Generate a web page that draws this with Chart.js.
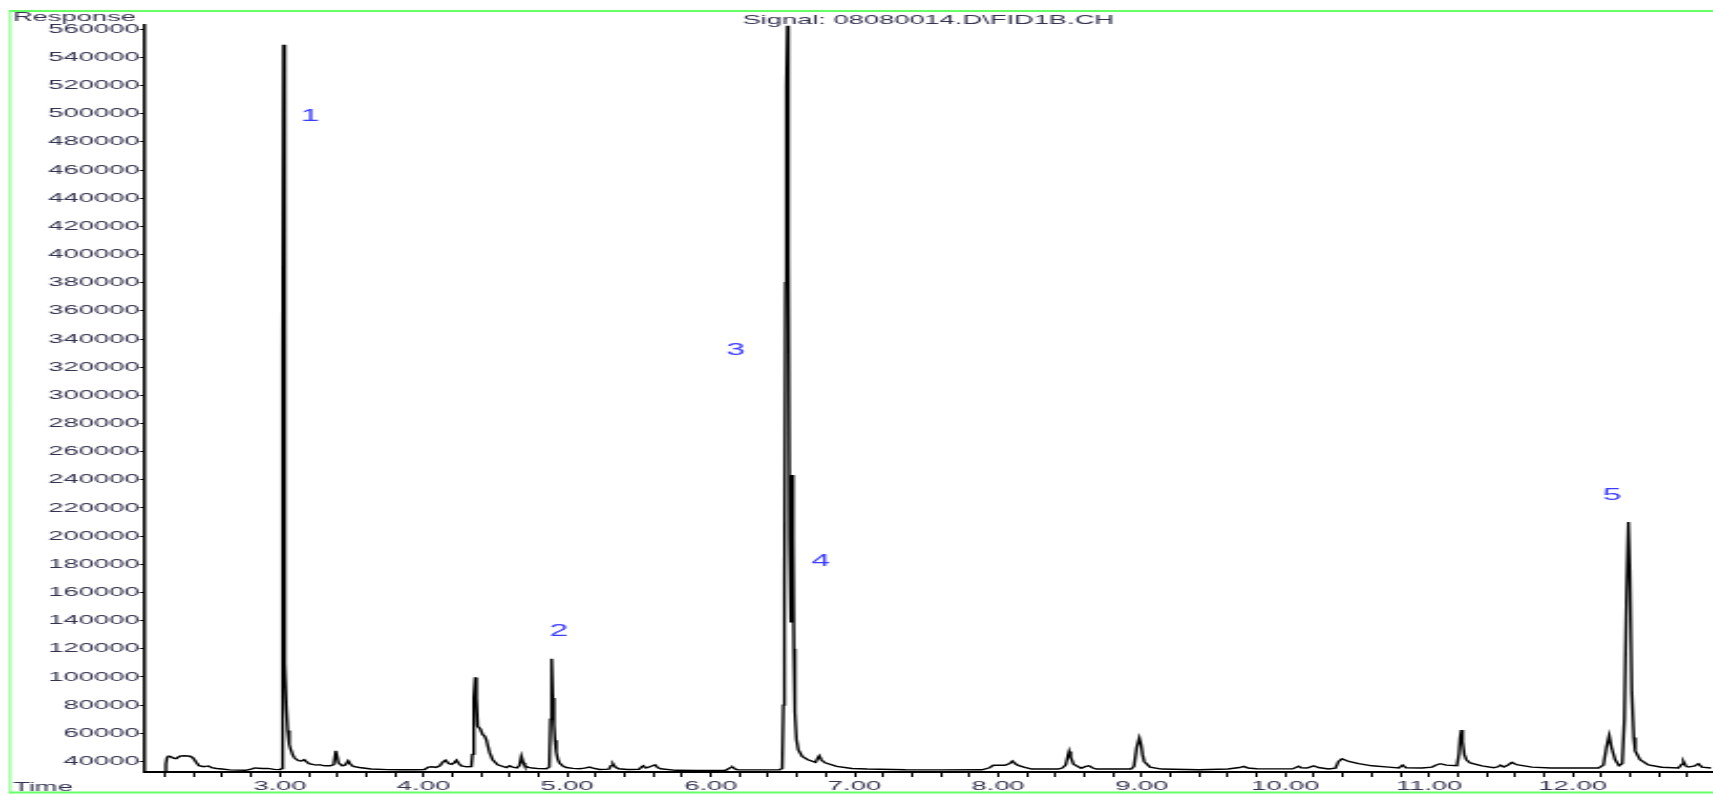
<!DOCTYPE html>
<html>
<head>
<meta charset="utf-8">
<script src="https://cdn.jsdelivr.net/npm/chart.js@4.4.0/dist/chart.umd.min.js"></script>
<style>
html, body { margin:0; padding:0; background:#fff; overflow:hidden; }
#page { width:1713px; height:795px; position:relative; overflow:hidden; background:#fff; }
/* the original printout is stretched sideways, so draw narrow and stretch */
#stretch { width:816px; height:795px; transform:scaleX(2.0993); transform-origin:0 0; }
</style>
</head>
<body>
<div id="page"><div id="stretch"><canvas id="chrom"></canvas></div></div>
<script>
// retention time (min)
var times = [
    2.061, 2.200, 2.206, 2.214, 2.224, 2.240, 2.258, 2.277, 2.292, 2.304,
    2.330, 2.357, 2.375, 2.397, 2.417, 2.437, 2.470, 2.503, 2.525, 2.560,
    2.597, 2.650, 2.703, 2.760, 2.800, 2.823, 2.850, 2.880, 2.916, 2.960,
    3.003, 3.012, 3.017, 3.021, 3.025, 3.029, 3.033, 3.038, 3.045, 3.054,
    3.065, 3.076, 3.090, 3.102, 3.129, 3.150, 3.169, 3.185, 3.203, 3.235,
    3.255, 3.275, 3.295, 3.315, 3.350, 3.375, 3.389, 3.400, 3.408, 3.435,
    3.455, 3.475, 3.490, 3.510, 3.554, 3.634, 3.750, 3.847, 3.950, 4.007,
    4.033, 4.060, 4.087, 4.113, 4.134, 4.153, 4.175, 4.194, 4.213, 4.229,
    4.245, 4.264, 4.300, 4.333, 4.340, 4.350, 4.360, 4.368, 4.377, 4.395,
    4.412, 4.425, 4.437, 4.450, 4.460, 4.481, 4.516, 4.577, 4.599, 4.620,
    4.650, 4.668, 4.681, 4.695, 4.704, 4.730, 4.759, 4.800, 4.855, 4.875,
    4.884, 4.892, 4.900, 4.908, 4.915, 4.924, 4.935, 4.947, 4.970, 4.994,
    5.040, 5.086, 5.120, 5.156, 5.180, 5.225, 5.290, 5.305, 5.318, 5.335,
    5.358, 5.420, 5.500, 5.520, 5.531, 5.545, 5.558, 5.590, 5.611, 5.630,
    5.651, 5.757, 5.900, 6.104, 6.140, 6.152, 6.170, 6.184, 6.300, 6.477,
    6.497, 6.505, 6.512, 6.520, 6.526, 6.533, 6.540, 6.548, 6.554, 6.560,
    6.566, 6.572, 6.578, 6.585, 6.596, 6.609, 6.636, 6.676, 6.729, 6.745,
    6.755, 6.770, 6.796, 6.876, 6.982, 7.088, 7.355, 7.600, 7.887, 7.940,
    7.967, 8.047, 8.080, 8.100, 8.120, 8.140, 8.180, 8.233, 8.419, 8.446,
    8.470, 8.486, 8.494, 8.505, 8.525, 8.578, 8.610, 8.632, 8.660, 8.685,
    8.925, 8.946, 8.965, 8.983, 8.995, 9.005, 9.017, 9.058, 9.138, 9.398,
    9.600, 9.680, 9.711, 9.740, 9.800, 10.050, 10.080, 10.093, 10.110, 10.150,
    10.197, 10.230, 10.300, 10.348, 10.370, 10.394, 10.441, 10.510, 10.603, 10.719,
    10.790, 10.816, 10.840, 10.950, 11.020, 11.050, 11.078, 11.120, 11.194, 11.208,
    11.217, 11.225, 11.233, 11.245, 11.260, 11.287, 11.368, 11.450, 11.480, 11.496,
    11.520, 11.550, 11.577, 11.610, 11.716, 11.850, 12.179, 12.214, 12.235, 12.254,
    12.270, 12.296, 12.323, 12.345, 12.360, 12.375, 12.388, 12.398, 12.411, 12.425,
    12.435, 12.469, 12.527, 12.620, 12.736, 12.760, 12.771, 12.790, 12.805, 12.850,
    12.875, 12.900, 12.965
];

// FID response
var responses = [
    32600, 32600, 38000, 42500, 43800, 43500, 42300, 42000, 43000, 43800,
    44000, 43900, 43700, 42300, 39500, 37000, 36300, 36800, 35600, 35000,
    34600, 34000, 33800, 33700, 34500, 35400, 35200, 35000, 35100, 34400,
    34200, 35000, 120000, 330000, 549000, 470000, 230000, 110000, 78000, 62000,
    52000, 48300, 44500, 42400, 40500, 40300, 41200, 39800, 38400, 37700,
    37400, 37700, 37200, 36900, 36900, 37800, 47600, 42500, 38900, 36900,
    37500, 40500, 38200, 36500, 35700, 34600, 34200, 34100, 34100, 34300,
    36000, 36200, 35800, 36900, 39500, 40900, 38500, 38000, 39000, 40800,
    38500, 36800, 36200, 36300, 45000, 85000, 99700, 85000, 64900, 63000,
    59000, 58000, 55400, 50000, 46200, 41200, 37600, 35700, 36900, 36000,
    35400, 37000, 43600, 39000, 37000, 35800, 35300, 34900, 34800, 36000,
    70000, 113000, 85000, 66000, 55000, 46500, 41500, 38900, 36700, 35700,
    35100, 34800, 35300, 36000, 35300, 34300, 34500, 37000, 38400, 36000,
    34800, 34300, 34400, 36300, 36900, 35400, 35600, 36800, 37600, 35600,
    34800, 33700, 33600, 33700, 35800, 36000, 34600, 34000, 34000, 34100,
    35000, 80000, 170000, 380000, 520000, 562500, 400000, 200000, 138700, 200000,
    243500, 200000, 120000, 75000, 55400, 48300, 43600, 41200, 39300, 42500,
    44000, 41000, 39000, 36500, 35000, 34600, 34100, 34000, 34100, 35500,
    37300, 37300, 38500, 40300, 38300, 37200, 36000, 34600, 34600, 35300,
    37500, 44000, 47100, 43000, 38000, 35200, 36500, 36900, 35300, 34600,
    34600, 36500, 50000, 56600, 52000, 45000, 40000, 36000, 34600, 34100,
    34600, 35700, 36500, 35300, 34800, 34700, 36000, 36500, 35400, 35300,
    36900, 35700, 34700, 35300, 40000, 41900, 40000, 38400, 36900, 36000,
    35400, 37400, 35400, 35300, 36000, 37500, 38400, 37400, 36900, 45000,
    57000, 62300, 54000, 45000, 41200, 38900, 36900, 35600, 36200, 37400,
    36000, 37500, 39300, 37700, 36000, 35300, 35300, 37500, 50000, 58300,
    50000, 41200, 37000, 38500, 70000, 160000, 210000, 175000, 90000, 57000,
    47500, 41200, 37600, 35900, 35300, 38000, 40000, 36500, 36000, 36800,
    38400, 36000, 35300
];

var peakNames = ['1', '2', '3', '4', '5'];
var peakLabelTimes = [3.209, 4.943, 6.173, 6.766, 12.274];
var peakLabelResponses = [498100, 132500, 331900, 182200, 228700];

var yTicks = [40000, 60000, 80000, 100000, 120000, 140000, 160000, 180000, 200000,
    220000, 240000, 260000, 280000, 300000, 320000, 340000, 360000, 380000, 400000,
    420000, 440000, 460000, 480000, 500000, 520000, 540000, 560000];
var xLabelTimes = [3, 4, 5, 6, 7, 8, 9, 10, 11, 12];

var signalTitle = 'Signal: 08080014.D\\FID1B.CH';
var FONT = 'Arial, "Liberation Sans", sans-serif';
var TEXT_COL = '#33334f';

// minor ticks every 0.2 min
var xTicks = [];
for (var i = 11; i <= 64; i++) {
    xTicks.push(Math.round(i * 20) / 100);
}

var points = times.map(function(t, k) {
    return {x: t, y: responses[k]};
});

var decor = {
    id: 'decor',
    beforeDraw: function(chart) {
        var ctx = chart.ctx;
        ctx.save();
        ctx.fillStyle = '#fff';
        ctx.fillRect(0, 0, chart.width, chart.height);
        ctx.restore();
    },
    afterDraw: function(chart) {
        var ctx = chart.ctx;
        var ca = chart.chartArea;
        var xs = chart.scales.x;
        var ys = chart.scales.y;
        ctx.save();

        // green frame
        ctx.strokeStyle = '#66ff66';
        ctx.lineWidth = 2;
        ctx.beginPath();
        ctx.moveTo(4.4, 11);
        ctx.lineTo(chart.width, 11);
        ctx.moveTo(4.4, 792.6);
        ctx.lineTo(chart.width, 792.6);
        ctx.stroke();
        ctx.lineWidth = 0.9;
        ctx.beginPath();
        ctx.moveTo(4.85, 10);
        ctx.lineTo(4.85, 793.6);
        ctx.stroke();

        ctx.fillStyle = TEXT_COL;
        ctx.font = '13px ' + FONT;
        ctx.textBaseline = 'alphabetic';
        ctx.textAlign = 'left';
        ctx.fillText('Response', 6.2, 21);
        ctx.fillText('Time', 6.2, 790.5);
        ctx.textAlign = 'center';
        ctx.fillText(signalTitle, (ca.left + ca.right) / 2, 23.5);

        // peak numbers
        ctx.fillStyle = '#3c3cff';
        ctx.font = '16px ' + FONT;
        ctx.textBaseline = 'middle';
        for (var k = 0; k < peakNames.length; k++) {
            ctx.fillText(peakNames[k], xs.getPixelForValue(peakLabelTimes[k]), ys.getPixelForValue(peakLabelResponses[k]));
        }
        ctx.restore();
    }
};

new Chart(document.getElementById('chrom'), {
    type: 'line',
    data: {
        datasets: [{
            data: points,
            borderColor: '#000',
            borderWidth: 1.4,
            pointRadius: 0,
            tension: 0,
            fill: false
        }]
    },
    options: {
        responsive: true,
        maintainAspectRatio: false,
        animation: false,
        events: [],
        layout: {padding: {top: 25, left: 0, right: 0, bottom: 0}},
        plugins: {
            legend: {display: false},
            tooltip: {enabled: false}
        },
        scales: {
            x: {
                type: 'linear',
                min: 2.06,
                max: 12.967,
                afterBuildTicks: function(axis) {
                    axis.ticks = xTicks.map(function(v) { return {value: v}; });
                },
                afterFit: function(axis) { axis.height = 23; },
                grid: {drawOnChartArea: false, drawTicks: true, tickLength: 5, color: '#000', tickWidth: 1},
                border: {display: true, color: '#000', width: 2},
                ticks: {
                    autoSkip: false,
                    maxRotation: 0,
                    padding: 2,
                    color: TEXT_COL,
                    font: {family: FONT, size: 13},
                    callback: function(v) {
                        for (var i = 0; i < xLabelTimes.length; i++) {
                            if (Math.abs(v - xLabelTimes[i]) < 1e-6) return xLabelTimes[i].toFixed(2);
                        }
                        return '';
                    }
                }
            },
            y: {
                type: 'linear',
                min: 32500,
                max: 563000,
                afterBuildTicks: function(axis) {
                    axis.ticks = yTicks.map(function(v) { return {value: v}; });
                },
                afterFit: function(axis) { axis.width = 69; },
                grid: {drawOnChartArea: false, drawTicks: true, tickLength: 2.5, color: '#000', tickWidth: 1},
                border: {display: true, color: '#000', width: 1.5},
                ticks: {
                    autoSkip: false,
                    padding: 0,
                    color: TEXT_COL,
                    font: {family: FONT, size: 13},
                    callback: function(v) { return String(v); }
                }
            }
        }
    },
    plugins: [decor]
});
</script>
</body>
</html>
